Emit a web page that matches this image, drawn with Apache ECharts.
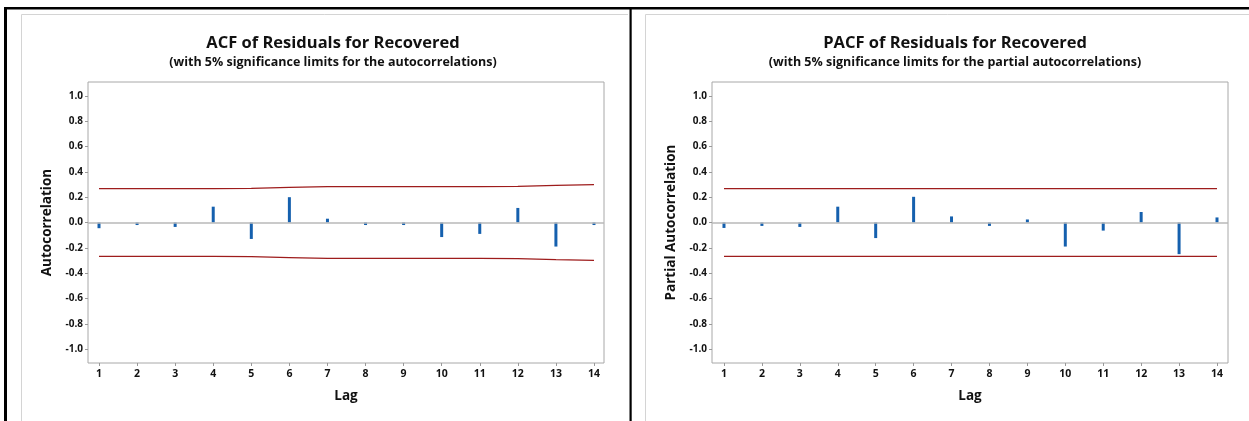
<!DOCTYPE html>
<html>
<head>
<meta charset="utf-8">
<script src="https://cdn.jsdelivr.net/npm/echarts@6/dist/echarts.min.js"></script>
<style>
html, body { margin: 0; padding: 0; background: #fff; }
#main { width: 1249px; height: 421px; }
</style>
</head>
<body>
<div id="main"></div>
<script>
var lags = [1, 2, 3, 4, 5, 6, 7, 8, 9, 10, 11, 12, 13, 14];
var acfVals = [-0.045, -0.02, -0.035, 0.125, -0.13, 0.2, 0.03, -0.02, -0.02, -0.115, -0.09, 0.115, -0.19, -0.02];
var acfLimit = [0.268, 0.268, 0.268, 0.268, 0.27, 0.277, 0.284, 0.284, 0.284, 0.284, 0.284, 0.285, 0.293, 0.30];
var pacfVals = [-0.043, -0.027, -0.035, 0.125, -0.123, 0.203, 0.048, -0.027, 0.024, -0.19, -0.064, 0.083, -0.25, 0.04];
var pacfLimit = [0.268, 0.268, 0.268, 0.268, 0.268, 0.268, 0.268, 0.268, 0.268, 0.268, 0.268, 0.268, 0.268, 0.268];
var yTicks = [-1.0, -0.8, -0.6, -0.4, -0.2, 0.0, 0.2, 0.4, 0.6, 0.8, 1.0];

var font = '"Open Sans", "Noto Sans", sans-serif';
var barColor = '#1560AE';
var limColor = '#9E1C1C';

function pairs(v) {
    return lags.map(function (l, i) { return [l, v[i]]; });
}
function neg(v) {
    return lags.map(function (l, i) { return [l, -v[i]]; });
}

function xAx(idx, min, max) {
    return {
        gridIndex: idx, type: 'value', min: min, max: max,
        name: 'Lag', nameLocation: 'middle', nameGap: 26,
        nameTextStyle: { fontFamily: font, fontWeight: 'bold', fontSize: 13.5, color: '#111' },
        axisLine: { show: false, onZero: false },
        splitLine: { show: false },
        axisTick: { show: true, customValues: lags, length: 3, lineStyle: { color: '#999' } },
        axisLabel: { customValues: lags, margin: 6, fontFamily: font, fontWeight: 'bold', fontSize: 10.5, color: '#111' }
    };
}
function yAx(idx, name, gap) {
    return {
        gridIndex: idx, type: 'value', min: -1.11, max: 1.11,
        name: name, nameLocation: 'middle', nameGap: gap,
        nameTextStyle: { fontFamily: font, fontWeight: 'bold', fontSize: 13.5, color: '#111' },
        axisLine: { show: false, onZero: false },
        splitLine: { show: false },
        axisTick: { show: true, customValues: yTicks, length: 3, lineStyle: { color: '#999' } },
        axisLabel: {
            customValues: yTicks, margin: 5, fontFamily: font, fontWeight: 'bold', fontSize: 10, color: '#111',
            formatter: function (v) { return v.toFixed(1); }
        }
    };
}
function barSeries(idx, vals) {
    return {
        type: 'bar', xAxisIndex: idx, yAxisIndex: idx, data: pairs(vals),
        barWidth: 3, itemStyle: { color: barColor }, silent: true,
        markLine: {
            silent: true, symbol: 'none', label: { show: false },
            lineStyle: { color: '#b8b8b8', type: 'solid', width: 1.5 },
            data: [{ yAxis: 0 }]
        }
    };
}
function limSeries(idx, data) {
    return {
        type: 'line', xAxisIndex: idx, yAxisIndex: idx, data: data,
        showSymbol: false, symbol: 'none', silent: true,
        lineStyle: { color: limColor, width: 1.2 }
    };
}

var chart = echarts.init(document.getElementById('main'));
chart.setOption({
    animation: false,
    backgroundColor: '#fff',
    title: [{
        text: 'ACF of Residuals for Recovered',
        subtext: '(with 5% significance limits for the autocorrelations)',
        left: 328, top: 28, textAlign: 'center', itemGap: 2,
        textStyle: { fontFamily: font, fontWeight: 'bold', fontSize: 16.5, color: '#111', lineHeight: 20 },
        subtextStyle: { fontFamily: font, fontWeight: 'bold', fontSize: 12.5, color: '#111', lineHeight: 15 }
    }, {
        text: 'PACF of Residuals for Recovered',
        subtext: '(with 5% significance limits for the partial autocorrelations)',
        left: 950, top: 28, textAlign: 'center', itemGap: 2,
        textStyle: { fontFamily: font, fontWeight: 'bold', fontSize: 16.5, color: '#111', lineHeight: 20 },
        subtextStyle: { fontFamily: font, fontWeight: 'bold', fontSize: 12.5, color: '#111', lineHeight: 15 }
    }],
    grid: [
        { left: 88, top: 82, width: 516, height: 281, show: true, borderColor: '#a8a8a8', borderWidth: 1 },
        { left: 712, top: 82, width: 516, height: 281, show: true, borderColor: '#a8a8a8', borderWidth: 1 }
    ],
    xAxis: [xAx(0, 0.711, 14.263), xAx(1, 0.684, 14.29)],
    yAxis: [yAx(0, 'Autocorrelation', 34), yAx(1, 'Partial Autocorrelation', 34)],
    series: [
        barSeries(0, acfVals),
        limSeries(0, pairs(acfLimit)),
        limSeries(0, neg(acfLimit)),
        barSeries(1, pacfVals),
        limSeries(1, pairs(pacfLimit)),
        limSeries(1, neg(pacfLimit))
    ],
    graphic: [
        { type: 'line', shape: { x1: 21.5, y1: 14.5, x2: 628, y2: 14.5 }, style: { stroke: '#d4d4d4', lineWidth: 1 } },
        { type: 'line', shape: { x1: 21.5, y1: 14.5, x2: 21.5, y2: 421 }, style: { stroke: '#d4d4d4', lineWidth: 1 } },
        { type: 'line', shape: { x1: 645.5, y1: 14.5, x2: 1249, y2: 14.5 }, style: { stroke: '#d4d4d4', lineWidth: 1 } },
        { type: 'line', shape: { x1: 645.5, y1: 14.5, x2: 645.5, y2: 421 }, style: { stroke: '#d4d4d4', lineWidth: 1 } },
        { type: 'rect', shape: { x: 4, y: 7, width: 1245, height: 2.5 }, style: { fill: '#000' } },
        { type: 'rect', shape: { x: 4, y: 7, width: 3, height: 414 }, style: { fill: '#000' } },
        { type: 'rect', shape: { x: 629.5, y: 7, width: 2.2, height: 414 }, style: { fill: '#000' } }
    ]
});
</script>
</body>
</html>
